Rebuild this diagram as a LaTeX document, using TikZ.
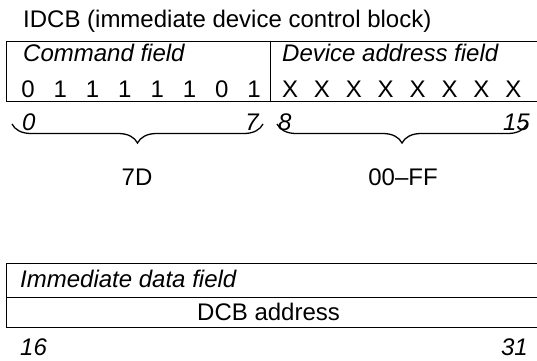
\documentclass[tikz,border=0pt]{standalone}
\usepackage{fontspec}
\setmainfont{Liberation Sans}
\usetikzlibrary{positioning, decorations.pathreplacing}

\begin{document}
\begin{tikzpicture}[
    x=1pt, y=-1pt,
    % ── Node styles ──────────────────────────────────────────────────────
    fieldbox/.style={
        draw, line width=1.3pt, inner sep=0pt, anchor=north west
    },
    fieldname/.style={
        font=\fontsize{24}{28}\selectfont\itshape, anchor=base west, inner sep=0pt
    },
    bit/.style={
        font=\fontsize{24}{28}\selectfont, anchor=base, inner sep=0pt
    },
    bitno/.style={
        font=\fontsize{24}{28}\selectfont\itshape, inner sep=0pt
    },
    valtext/.style={
        font=\fontsize{24}{28}\selectfont, inner sep=0pt
    },
    % ── Brace style ──────────────────────────────────────────────────────
    brace/.style={
        decorate, line width=1.3pt,
        decoration={brace, mirror, amplitude=19pt, aspect=0.5}
    }
]
\useasboundingbox (0,0) rectangle (537,360);

% ═══════════════════════════════════════════════════════════════════════════
% Title
% ═══════════════════════════════════════════════════════════════════════════
\node[valtext, anchor=base west] (title) at (23,27)
    {IDCB (immediate device control block)};

% ═══════════════════════════════════════════════════════════════════════════
% First word — command field and device address field
% ═══════════════════════════════════════════════════════════════════════════
\node[fieldbox, minimum width=264pt, minimum height=60pt] (cmd) at (6,41) {};
\node[fieldbox, minimum width=276pt, minimum height=60pt] (dev) at (270,41) {};

\node[fieldname] (cmdname) at (23,61) {Command field};
\node[fieldname] (devname) at (282,61) {Device address field};

% Bit values
\foreach \b [count=\i] in {0,1,1,1,1,1,0,1}
    \node[bit] (c\i) at ({28+32.3*(\i-1)},97) {\b};
\foreach \i in {1,...,8}
    \node[bit] (d\i) at ({290+31.9*(\i-1)},97) {X};

% Bit numbers
\node[bitno, anchor=base west] (b0) at (22,130) {0};
\node[bitno, anchor=base east] (b7) at (259,130) {7};
\node[bitno, anchor=base west] (b8) at (278,130) {8};
\node[bitno, anchor=base east] (b15) at (530,130) {15};

% Braces and their values
\coordinate (cbl) at (12,124);
\coordinate (cbr) at (263,124);
\coordinate (dbl) at (277,124);
\coordinate (dbr) at (527,124);
\draw[brace] (cbl) -- (cbr);
\draw[brace] (dbl) -- (dbr);

\node[valtext, anchor=base] (cval) at (137,185) {7D};
\node[valtext, anchor=base] (dval) at (403,185) {00--FF};

% ═══════════════════════════════════════════════════════════════════════════
% Second word — immediate data field
% ═══════════════════════════════════════════════════════════════════════════
\node[fieldbox, minimum width=540pt, minimum height=34pt] (imm) at (6,263) {};
\node[fieldbox, minimum width=540pt, minimum height=30pt] (dcb) at (6,297) {};

\node[fieldname] (immname) at (20,287) {Immediate data field};
\node[valtext, anchor=base west] (dcbname) at (197,320) {DCB address};

\node[bitno, anchor=base west] (b16) at (20,355) {16};
\node[bitno, anchor=base east] (b31) at (528,355) {31};

\end{tikzpicture}
\end{document}
